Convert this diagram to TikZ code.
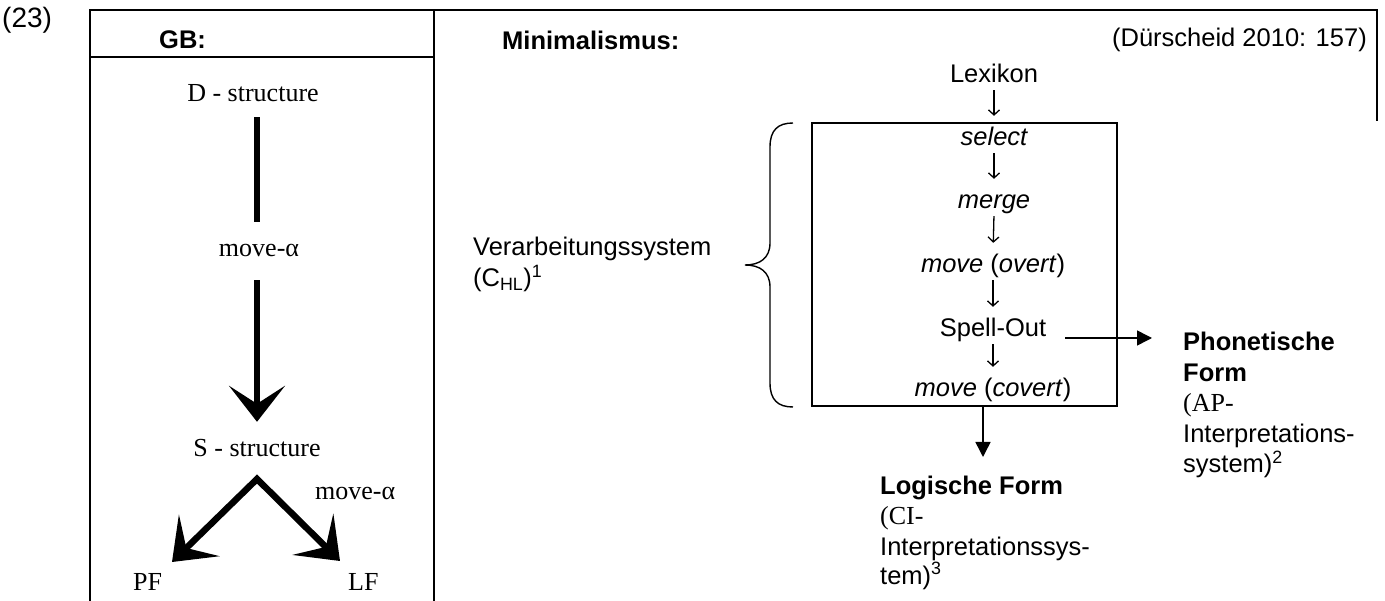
\documentclass[tikz,border=0pt]{standalone}
\usepackage{fontspec}
\setmainfont{Liberation Sans}
\newfontfamily\tmsfont{Liberation Serif}
\usetikzlibrary{arrows.meta,calc}
\begin{document}
\begin{tikzpicture}[x=1pt,y=-1pt,
  txt/.style={inner sep=0pt, text height=18pt, text depth=5pt, anchor=base, font=\fontsize{25.5}{30}\selectfont},
  txtl/.style={txt, anchor=base west},
  tms/.style={font=\fontsize{26}{30}\selectfont\tmsfont},
  bld/.style={font=\fontsize{25.5}{30}\selectfont\bfseries},
  itl/.style={font=\fontsize{25.5}{30}\selectfont\itshape},
  framel/.style={line width=2pt},
  gbline/.style={line width=6.5pt, line join=miter},
  gbarrow/.style={-{Stealth[length=36pt,width=56pt,inset=18pt]}},
  gbboth/.style={{Stealth[length=38pt,width=58pt,inset=18pt]}-{Stealth[length=38pt,width=58pt,inset=18pt]}},
  thinarrow/.style={line width=1.3pt, -{Straight Barb[length=5pt,width=11pt]}, shorten <=2pt, shorten >=12pt},
  solidarrow/.style={line width=1.5pt, -{Triangle[length=15pt,width=15pt]}}
]
\useasboundingbox (0,0) rectangle (1385,601);

% frame
\draw[framel] (90,601) -- (90,10) -- (1377,10) -- (1377,121);
\draw[framel] (434,10) -- (434,601);
\draw[framel] (90,57) -- (434,57);

% headings
\node[txtl, font=\fontsize{28}{30}\selectfont] (num) at (2,28) {(23)};
\node[txtl, bld] (gb) at (159,49) {GB:};
\node[txtl, bld] (mini) at (502,50) {Minimalismus:};
\node[txt, anchor=base east] (src) at (1367,47) {(Dürscheid 2010: 157)};

% GB panel
\node[txt, tms] (D) at (253,102) {D - structure};
\node[txt, tms] (mv1) at (259,257) {move-α};
\node[txt, tms] (S) at (257,457) {S - structure};
\node[txtl, tms] (mv2) at (315,500) {move-α};
\node[txtl, tms] (PF) at (133,590) {PF};
\node[txtl, tms] (LF) at (348,590) {LF};
\coordinate (apex) at (257,479);
\coordinate (pft) at (172,562);
\coordinate (lft) at (340,561);

\draw[gbline, shorten <=10pt, shorten >=17pt] (S.north |- D.south) -- (S.north |- mv1.north);
\draw[gbline, gbarrow, shorten <=18pt, shorten >=17pt] (S.north |- mv1.south) -- (S.north);
\draw[gbline, gbboth] (pft) -- (apex) -- (lft);

% Minimalismus panel
\node[txt] (lex) at (994,83) {Lexikon};
\node[txt, itl] (sel) at (994,146) {select};
\node[txt, itl] (mer) at (994,209) {merge};
\node[txt] (ovt) at (993,273) {\textit{move} (\textit{overt})};
\node[txt] (spo) at (993,337) {Spell-Out};
\node[txt] (cvt) at (993,397) {\textit{move} (\textit{covert})};
\node[draw, line width=2pt, minimum width=305pt, minimum height=283pt, inner sep=0pt] (box) at (964.5,264.5) {};

\foreach \a/\b in {lex/sel, sel/mer, mer/ovt, ovt/spo, spo/cvt}
  \draw[thinarrow] (\a.south) -- (\b.north);

% brace
\draw[line width=1.4pt] (793,123) .. controls (778,123) and (770,130) .. (770,147) -- (770,243)
  .. controls (770,258) and (760,265) .. (745,265)
  .. controls (760,265) and (770,272) .. (770,287) -- (770,383)
  .. controls (770,400) and (778,407) .. (793,407);

\node[txtl] (verA) at (473,256) {Verarbeitungssystem};
\node[txtl] (verB) at (473,287) {(C\textsubscript{HL})\textsuperscript{1}};

% outputs
\node[txtl, bld] (phA) at (1183,351) {Phonetische};
\node[txtl, bld] (phB) at (1183,382) {Form};
\node[txtl, tms] (phC) at (1183,412) {(AP-};
\node[txtl] (phD) at (1183,443) {Interpretations-};
\node[txtl] (phE) at (1183,473) {system)\textsuperscript{2}};

\node[txtl, bld] (lgA) at (880,494) {Logische Form};
\node[txtl, tms] (lgB) at (880,524) {(CI-};
\node[txtl] (lgC) at (880,555) {Interpretationssys-};
\node[txtl] (lgD) at (880,584) {tem)\textsuperscript{3}};

\draw[solidarrow] ([shift={(19,1)}]spo.base east) -- ([shift={(-31,-13)}]phA.base west);
\draw[solidarrow] ([xshift=18.5pt]box.south) -- ([shift={(103,-37)}]lgA.base west);
\end{tikzpicture}
\end{document}
